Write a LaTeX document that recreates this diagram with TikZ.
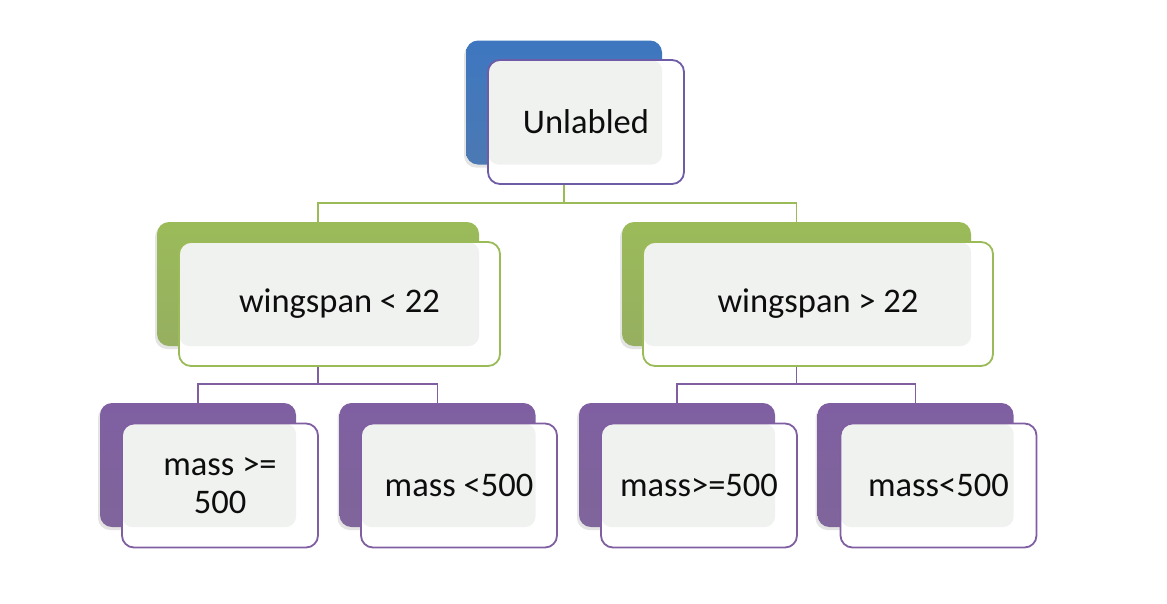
\documentclass[tikz,border=0pt]{standalone}
\usepackage{fontspec}
\setmainfont{Carlito}
\usetikzlibrary{shadows}
\definecolor{blueC}{HTML}{3E77C0}
\definecolor{greenC}{HTML}{9BBB59}
\definecolor{purpC}{HTML}{7F5FA1}
\definecolor{topBorder}{HTML}{6F5CA6}
\definecolor{innerGray}{HTML}{F0F2F0}
\tikzset{
  backbox/.style={rectangle, rounded corners=12pt, inner sep=0pt, draw=none,
    top color=#1, bottom color=#1!80!gray,
    drop shadow={fill=black!30, opacity=0.35, shadow xshift=-2pt, shadow yshift=-3pt}},
  frontbox/.style 2 args={rectangle, rounded corners=12pt, inner sep=0pt,
    draw=#1, line width=1.8pt, fill=white, text=black!95,
    font=\fontsize{34.5}{38}\selectfont, align=center,
    path picture={\fill[innerGray, rounded corners=11pt]
      (path picture bounding box.north west) rectangle (#2.south east);}},
  conn/.style={draw=#1, line width=1.7pt},
  small/.style={minimum width=196pt, minimum height=124pt}
}
\begin{document}
\begin{tikzpicture}[x=1pt,y=-1pt]
\useasboundingbox[fill=white] (0,0) rectangle (1167,603);
% back boxes
\node[backbox=blueC, small] (tb) at (564,102.5) {};
\node[backbox=greenC, minimum width=322pt, minimum height=124pt] (lb) at (318,284) {};
\node[backbox=greenC, minimum width=349pt, minimum height=124pt] (rb) at (796.5,284) {};
\node[backbox=purpC, small] (p1b) at (198,465) {};
\node[backbox=purpC, small] (p2b) at (437.5,465) {};
\node[backbox=purpC, small] (p3b) at (677,465) {};
\node[backbox=purpC, small] (p4b) at (915.5,465) {};
% connectors
\coordinate (j0) at (564,203);
\draw[conn=greenC] (tb.south) -- (j0) -| (lb.north);
\draw[conn=greenC] (j0) -| (rb.north);
\coordinate (j1) at (318,384);
\draw[conn=purpC] (lb.south) -- (j1) -| (p1b.north);
\draw[conn=purpC] (j1) -| (p2b.north);
\coordinate (j2) at (796.5,384);
\draw[conn=purpC] (rb.south) -- (j2) -| (p3b.north);
\draw[conn=purpC] (j2) -| (p4b.north);
% front boxes
\node[frontbox={topBorder}{tb}, small] (tf) at (586,122) {Unlabled};
\node[frontbox={greenC}{lb}, minimum width=321pt, minimum height=124pt] (lf) at (339.5,304) {wingspan < 22};
\node[frontbox={greenC}{rb}, minimum width=350pt, minimum height=124pt] (rf) at (818,304) {wingspan > 22};
\node[frontbox={purpC}{p1b}, small] (p1f) at (220,485.5) {mass >=\\500};
\node[frontbox={purpC}{p2b}, small] (p2f) at (459,485.5) {mass <500};
\node[frontbox={purpC}{p3b}, small] (p3f) at (699,485.5) {mass>=500};
\node[frontbox={purpC}{p4b}, small] (p4f) at (938.5,485.5) {mass<500};
\end{tikzpicture}
\end{document}
